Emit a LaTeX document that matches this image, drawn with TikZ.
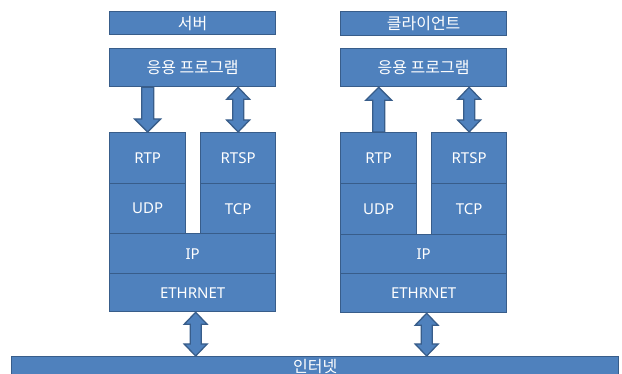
\documentclass[tikz,border=0pt]{standalone}
\usepackage{fontspec}
\setmainfont{Noto Sans}
\newfontfamily\kr{Noto Sans CJK KR}
\usetikzlibrary{calc}
\definecolor{fillc}{HTML}{4F81BD}
\definecolor{borderc}{HTML}{385D8A}
\tikzset{
  layer/.style={draw=borderc, fill=fillc, text=white, line width=1.3pt, inner sep=0pt,
    anchor=north west, font=\fontsize{15}{18}\selectfont},
  krtext/.style={font=\kr\fontsize{16}{18}\selectfont},
  blockarrow/.style={draw=borderc, fill=fillc, line width=1.3pt, line join=miter},
}
\newcommand{\singlearr}[3]{%
  \draw[blockarrow] let \p0=(#1), \p1=(#2), \p2=(#3), \n1={(\y2>\y1) ? 1 : -1} in
    (\x0-6pt,\y1) -- (\x0-6pt,{\y2-\n1*13pt}) -- (\x0-13pt,{\y2-\n1*13pt}) -- (\x0,\y2)
    -- (\x0+13pt,{\y2-\n1*13pt}) -- (\x0+6pt,{\y2-\n1*13pt}) -- (\x0+6pt,\y1) -- cycle;}
\newcommand{\doublearr}[3]{%
  \draw[blockarrow] let \p0=(#1), \p1=(#2), \p2=(#3), \n1={(\y2>\y1) ? 1 : -1} in
    (\x0,\y1) -- (\x0+11.5pt,{\y1+\n1*12pt}) -- (\x0+5.5pt,{\y1+\n1*12pt})
    -- (\x0+5.5pt,{\y2-\n1*12pt}) -- (\x0+11.5pt,{\y2-\n1*12pt}) -- (\x0,\y2)
    -- (\x0-11.5pt,{\y2-\n1*12pt}) -- (\x0-5.5pt,{\y2-\n1*12pt})
    -- (\x0-5.5pt,{\y1+\n1*12pt}) -- (\x0-11.5pt,{\y1+\n1*12pt}) -- cycle;}
\begin{document}
\begin{tikzpicture}[x=1pt,y=-1pt]
\useasboundingbox (0,0) rectangle (622,374);
\clip (0,0) rectangle (622,374);
% server
\node[layer, krtext, minimum width=166pt, minimum height=23pt] (srv) at (109,11) {서버};
\node[layer, krtext, minimum width=166pt, minimum height=38pt] (app1) at (109,48) {응용 프로그램};
\node[layer, minimum width=76pt, minimum height=51pt] (rtp1) at (109,132) {RTP};
\node[layer, minimum width=76pt, minimum height=50pt] (udp1) at (109,183) {UDP};
\node[layer, minimum width=75pt, minimum height=51pt] (rtsp1) at (200,132) {RTSP};
\node[layer, minimum width=75pt, minimum height=50pt] (tcp1) at (200,183) {TCP};
\node[layer, minimum width=166pt, minimum height=40pt] (ip1) at (109,233) {IP};
\node[layer, minimum width=166pt, minimum height=38pt] (eth1) at (109,273) {ETHRNET};
% client
\node[layer, krtext, minimum width=166pt, minimum height=24pt] (cli) at (340,11) {클라이언트};
\node[layer, krtext, minimum width=166pt, minimum height=38pt] (app2) at (340,48) {응용 프로그램};
\node[layer, minimum width=76pt, minimum height=51pt] (rtp2) at (340,132) {RTP};
\node[layer, minimum width=76pt, minimum height=51pt] (udp2) at (340,183) {UDP};
\node[layer, minimum width=75pt, minimum height=51pt] (rtsp2) at (431,132) {RTSP};
\node[layer, minimum width=75pt, minimum height=51pt] (tcp2) at (431,183) {TCP};
\node[layer, minimum width=166pt, minimum height=39pt] (ip2) at (340,234) {IP};
\node[layer, minimum width=166pt, minimum height=39pt] (eth2) at (340,273) {ETHRNET};
% internet
\node[layer, krtext, minimum width=607pt, minimum height=20pt] (net) at (11,356) {인터넷};
% arrows
\singlearr{rtp1.north}{app1.south}{rtp1.north}
\doublearr{rtsp1.north}{app1.south}{rtsp1.north}
\singlearr{rtp2.north}{rtp2.north}{app2.south}
\doublearr{rtsp2.north}{app2.south}{rtsp2.north}
\doublearr{$(eth1.south)+(3,0)$}{eth1.south}{net.north}
\doublearr{$(eth2.south)+(3,0)$}{eth2.south}{net.north}
\end{tikzpicture}
\end{document}
